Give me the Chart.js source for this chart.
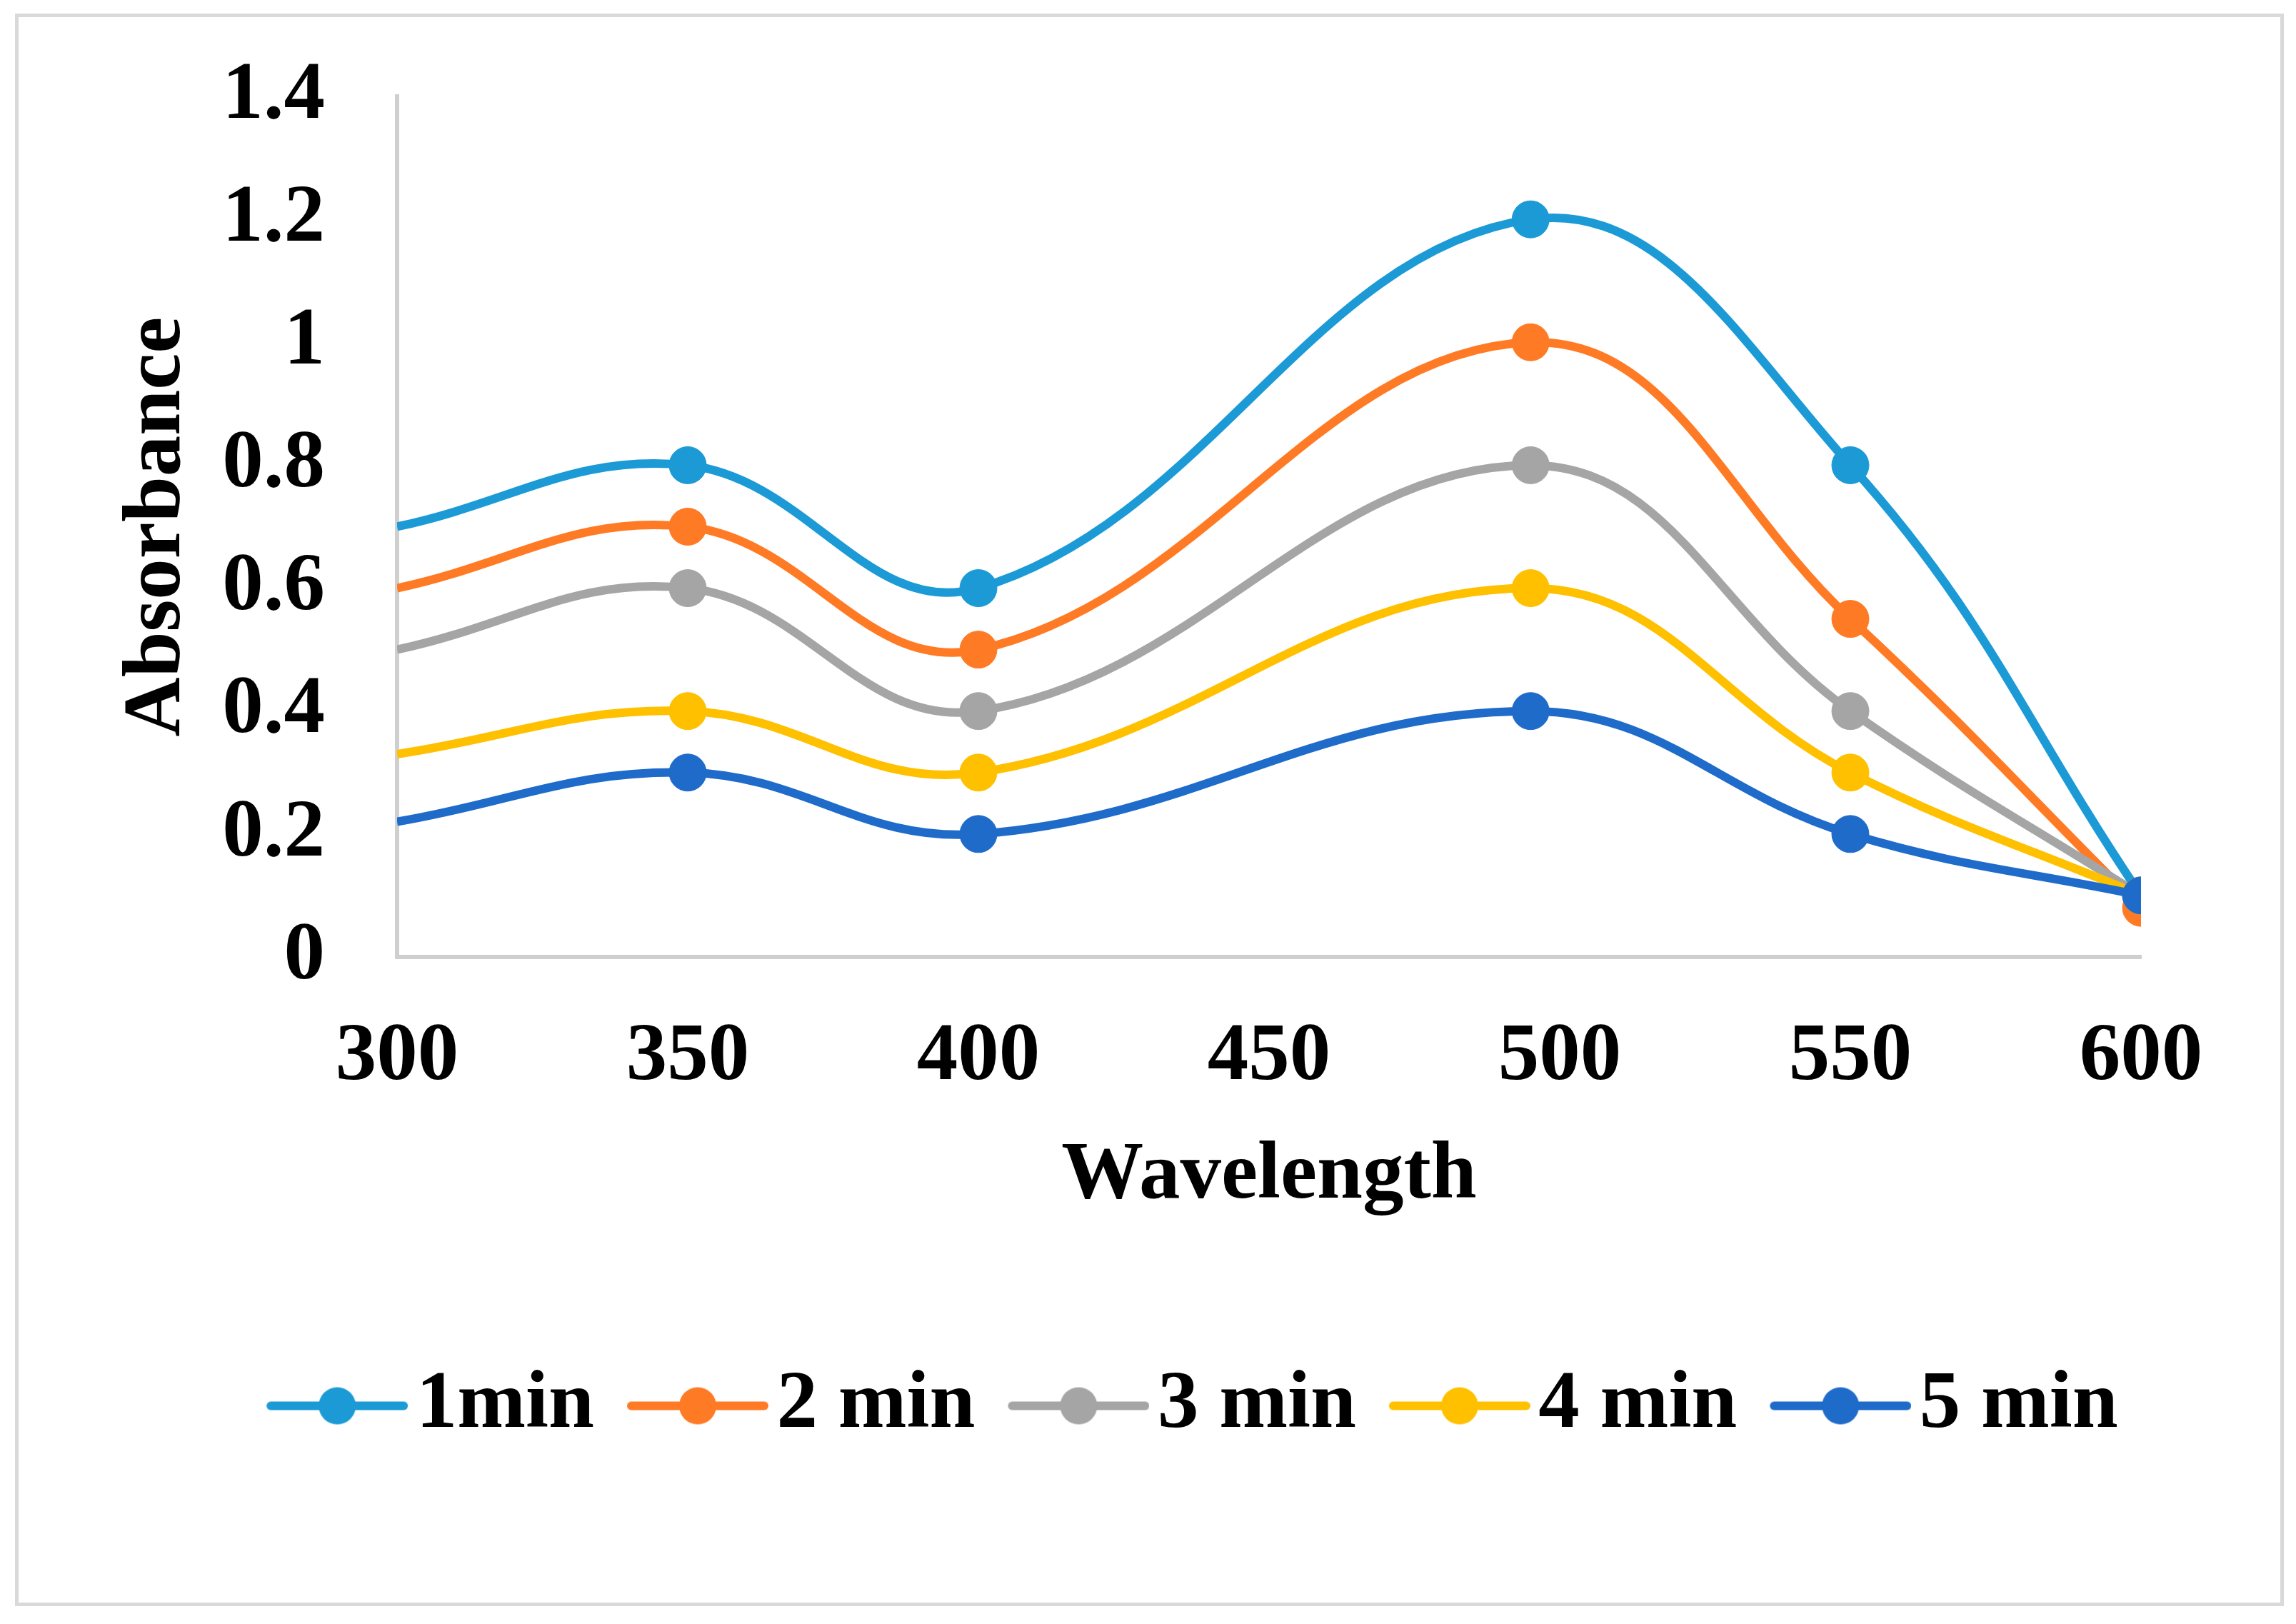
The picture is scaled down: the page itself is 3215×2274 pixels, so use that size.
<!DOCTYPE html>
<html>
<head>
<meta charset="utf-8">
<title>Absorbance vs Wavelength</title>
<script src="https://cdn.jsdelivr.net/npm/chart.js@4.4.1/dist/chart.umd.min.js"></script>
<style>
  html, body { margin: 0; padding: 0; background: #fff; }
  #wrap { position: relative; width: 3215px; height: 2274px; }
  #frame { position: absolute; left: 21px; top: 19px; width: 3167px; height: 2220px; border: 5px solid #d9d9d9; pointer-events: none; }
</style>
</head>
<body>
<div id="wrap">
  <canvas id="absChart"></canvas>
  <div id="frame"></div>
</div>
<script>
// wavelengths (nm) where readings were taken
const wavelengths = [300, 350, 400, 495, 550, 600];
const seriesNames = ['1min', '2 min', '3 min', '4 min', '5 min'];
const abs1min = [0.70, 0.80, 0.60, 1.20, 0.80, 0.10];
const abs2min = [0.60, 0.70, 0.50, 1.00, 0.55, 0.08];
const abs3min = [0.50, 0.60, 0.40, 0.80, 0.40, 0.10];
const abs4min = [0.33, 0.40, 0.30, 0.60, 0.30, 0.10];
const abs5min = [0.22, 0.30, 0.20, 0.40, 0.20, 0.10];
const xTickLabels = ['300', '350', '400', '450', '500', '550', '600'];
const yTickLabels = ['0', '0.2', '0.4', '0.6', '0.8', '1', '1.2', '1.4'];

const colors = ['#1B9AD6', '#FF7A24', '#A5A5A5', '#FFC000', '#1F6BC9'];
const allSeries = [abs1min, abs2min, abs3min, abs4min, abs5min];

const textFont = { family: "'Liberation Serif', 'Times New Roman', serif", size: 115, weight: 'bold' };

// line + dot sample for the legend (Excel style)
function legendMark(color) {
  const c = document.createElement('canvas');
  c.width = 244;
  c.height = 60;
  const g = c.getContext('2d');
  g.strokeStyle = color;
  g.lineWidth = 12;
  g.lineCap = 'round';
  g.beginPath();
  g.moveTo(52, 30);
  g.lineTo(238, 30);
  g.stroke();
  g.fillStyle = color;
  g.beginPath();
  g.arc(145, 30, 26, 0, Math.PI * 2);
  g.fill();
  return c;
}
const legendMarks = colors.map(legendMark);

const datasets = allSeries.map((vals, i) => ({
  label: seriesNames[i],
  data: vals.map((v, j) => ({ x: wavelengths[j], y: v })),
  borderColor: colors[i],
  backgroundColor: colors[i],
  borderWidth: 12,
  tension: 0.4,
  // first reading has no marker in the original
  pointRadius: ctx => ctx.dataIndex === 0 ? 0 : 26,
  pointBorderWidth: 1,
  pointBackgroundColor: colors[i],
  pointBorderColor: colors[i],
  order: allSeries.length - i
}));

new Chart(document.getElementById('absChart').getContext('2d'), {
  type: 'line',
  data: { datasets },
  options: {
    responsive: true,
    maintainAspectRatio: false,
    animation: false,
    layout: { padding: { left: 124, right: 0, top: 135, bottom: 238 } },
    plugins: {
      tooltip: { enabled: false },
      legend: {
        position: 'bottom',
        labels: {
          usePointStyle: true,
          pointStyleWidth: 152,
          padding: 46,
          color: '#000',
          font: textFont,
          generateLabels(chart) {
            const items = Chart.defaults.plugins.legend.labels.generateLabels(chart);
            items.forEach(it => { it.pointStyle = legendMarks[it.datasetIndex]; });
            return items;
          },
          sort: (a, b) => a.datasetIndex - b.datasetIndex
        }
      }
    },
    scales: {
      x: {
        type: 'linear',
        min: 300,
        max: 600,
        ticks: {
          stepSize: 50,
          padding: 72,
          autoSkip: false,
          maxRotation: 0,
          color: '#000',
          font: textFont,
          callback: (v, i) => xTickLabels[i]
        },
        grid: { display: false, drawTicks: false },
        border: { display: true, color: '#cfcfcf', width: 6 },
        title: {
          display: true,
          text: 'Wavelength',
          color: '#000',
          font: textFont,
          padding: { top: -44, bottom: 149 }
        },
        afterFit(scale) {
          scale.paddingLeft = 0;
          scale.paddingRight = 217;
        }
      },
      y: {
        min: 0,
        max: 1.4,
        ticks: {
          stepSize: 0.2,
          padding: 101,
          autoSkip: false,
          color: '#000',
          font: textFont,
          callback: (v, i) => yTickLabels[i]
        },
        grid: { display: false, drawTicks: false },
        border: { display: true, color: '#cfcfcf', width: 6 },
        title: {
          display: true,
          text: 'Absorbance',
          color: '#000',
          font: textFont,
          padding: { top: 28, bottom: 0 }
        },
        afterFit(scale) {
          scale.width = 432;
          scale.paddingTop = 0;
          scale.paddingBottom = 0;
        }
      }
    }
  }
});
</script>
</body>
</html>
